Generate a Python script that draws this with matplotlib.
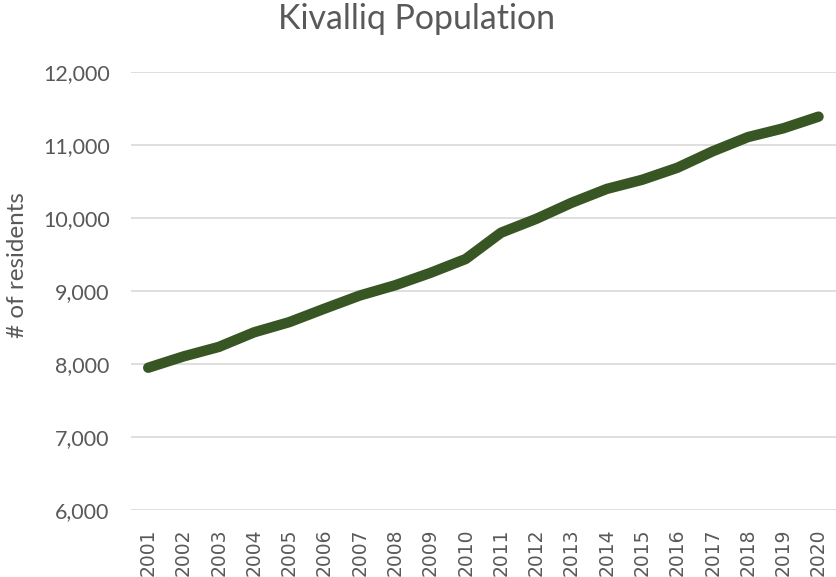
import matplotlib.pyplot as plt
from matplotlib.ticker import FuncFormatter

plt.rcParams['font.family'] = ['Lato', 'DejaVu Sans']

years = [str(y) for y in range(2001, 2021)]
residents = [7950, 8105, 8235, 8435, 8575, 8760, 8940, 9080, 9250, 9440,
             9800, 9990, 10210, 10400, 10525, 10690, 10915, 11110, 11230, 11390]

text_col = '#595959'

fig = plt.figure(figsize=(8.37, 5.77), dpi=100)
ax = fig.add_axes([0.156, 0.116, 0.843, 0.759])

ax.plot(years, residents, color='#375623', linewidth=7.5,
        solid_capstyle='round', solid_joinstyle='round', zorder=3)

ax.set_ylim(6000, 12000)
ax.set_yticks(range(6000, 12001, 1000))
ax.yaxis.set_major_formatter(FuncFormatter(lambda v, p: f'{int(v):,}'))
ax.set_xlim(-0.5, len(years) - 0.5)
ax.grid(axis='y', color='#d9d9d9', linewidth=1.2, zorder=0)

for s in ax.spines.values():
    s.set_visible(False)

ax.tick_params(axis='both', length=0, labelcolor=text_col)
ax.tick_params(axis='y', pad=15, labelsize=15.5)
ax.tick_params(axis='x', pad=13, labelrotation=90, labelsize=13.5,
               labelfontfamily='DejaVu Sans')

fig.text(18 / 837, 1 - 265 / 577, '# of residents', rotation=90,
         ha='center', va='center', fontsize=17.5, color=text_col)
fig.text(0.498, 1 - 29 / 577, 'Kivalliq Population', ha='center',
         va='baseline', fontsize=24.4, color=text_col)

fig.savefig('out.png', dpi=100)
